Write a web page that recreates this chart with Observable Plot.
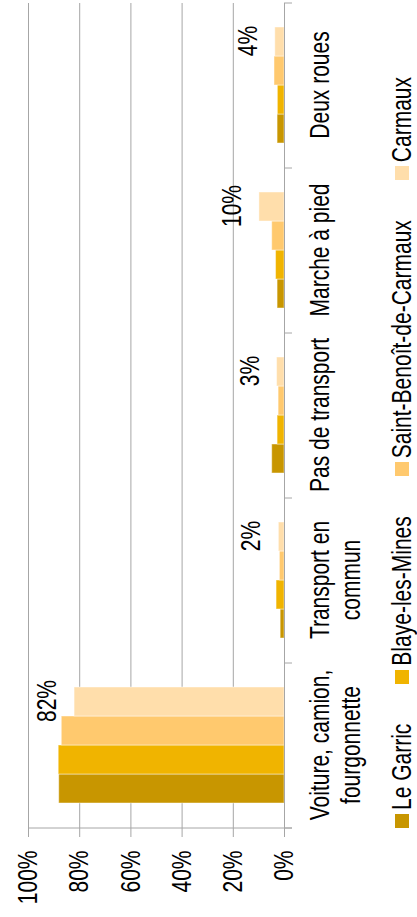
<!DOCTYPE html>
<html>
<head>
<meta charset="utf-8">
<script src="https://cdn.jsdelivr.net/npm/d3@7"></script>
<script src="https://cdn.jsdelivr.net/npm/@observablehq/plot@0.6"></script>
<style>
  html, body { margin: 0; padding: 0; background: #fff; overflow: hidden; }
  #wrap {
    position: absolute; left: 0; top: 0; width: 917px; height: 417px;
    transform-origin: 0 0; transform: translate(0, 917px) rotate(-90deg);
    font-family: "Liberation Sans", Arial, sans-serif; background: #fff;
  }
  #legend {
    position: absolute; left: 89px; top: 388px; height: 27px;
    display: flex; align-items: center; gap: 40px; font-size: 21px; color: #000;
  }
  #legend .item { display: flex; align-items: center; gap: 4px; white-space: nowrap; }
  #legend .sw { width: 14px; height: 14px; display: inline-block; }
  #legend .lab { display: inline-block; transform: scaleY(1.28); }
</style>
</head>
<body>
<div id="wrap"><div id="chart"></div><div id="legend"></div></div>
<script>
const categories = ["Voiture, camion,\nfourgonnette", "Transport en\ncommun", "Pas de transport", "Marche à pied", "Deux roues"];
const communes = ["Le Garric", "Blaye-les-Mines", "Saint-Benoît-de-Carmaux", "Carmaux"];
const leGarric    = [88.0, 1.5, 4.8, 2.7, 2.7];
const blaye       = [88.2, 3.1, 2.7, 3.3, 2.6];
const saintBenoit = [87.0, 1.8, 2.3, 4.8, 3.9];
const carmaux     = [82.0, 2.2, 2.9, 9.8, 3.6];
const colors = ["#c89600", "#f0b400", "#ffc96e", "#ffdeab"];
const yTicks = [0, 20, 40, 60, 80, 100];

const series = [leGarric, blaye, saintBenoit, carmaux];
const data = [];
categories.forEach((c, i) => series.forEach((s, j) => data.push({category: c, commune: communes[j], value: s[i]})));

const grey = "#a6a6a6";
const font = "'Liberation Sans', Arial, sans-serif";
const fs = 21;
const stretch = 1.28;
const plot = Plot.plot({
  width: 917, height: 380,
  marginLeft: 88, marginRight: 2, marginTop: 28, marginBottom: 96,
  style: {fontFamily: font, fontSize: fs + "px", color: "#000", background: "transparent"},
  fx: {domain: categories, padding: 0, label: null, axis: null},
  x: {domain: communes, paddingInner: 0, paddingOuter: 0.757, axis: null},
  y: {domain: [0, 100], label: null, axis: null},
  color: {domain: communes, range: colors},
  marks: [
    Plot.gridY(yTicks, {stroke: grey, strokeOpacity: 1}),
    Plot.axisY(yTicks, {tickFormat: d => d + "%", tickSize: 9, tickPadding: 14, stroke: grey, fill: "#000", fontSize: fs, label: null}),
    Plot.barY(data, {fx: "category", x: "commune", y: "value", fill: "commune", stroke: "#fff", strokeOpacity: 0.45, strokeWidth: 1}),
    Plot.ruleY([0], {stroke: grey}),
    Plot.text(data.filter(d => d.commune === "Carmaux"), {fx: "category", x: "commune", y: "value", text: d => Math.round(d.value) + "%", dy: -27, lineAnchor: "middle", fill: "#000", fontSize: fs}),
    Plot.axisFx({anchor: "bottom", tickSize: 0, tickPadding: 23, lineHeight: 1.15, fontSize: fs, fill: "#000", label: null})
  ]
});
document.getElementById("chart").appendChild(plot);

const svgNode = plot.tagName.toLowerCase() === "svg" ? plot : plot.querySelector("svg");
// stretch glyphs vertically about each text's anchor (reference text is tall and narrow)
svgNode.querySelectorAll("text").forEach(t => {
  const tr = t.getAttribute("transform");
  if (tr) t.setAttribute("transform", tr + ` scale(1,${stretch})`);
  else {
    const x = +(t.getAttribute("x") || 0), yy = +(t.getAttribute("y") || 0);
    t.setAttribute("transform", `translate(${x},${yy}) scale(1,${stretch}) translate(${-x},${-yy})`);
  }
});

// category boundary ticks and value-axis line, through Plot's scales
const fx = plot.scale("fx"), y = plot.scale("y");
const y0 = y.apply(0), y100 = y.apply(100);
const bounds = fx.domain.map(d => fx.apply(d));
bounds.push(fx.apply(fx.domain[fx.domain.length - 1]) + fx.bandwidth);
const svg = d3.select(svgNode);
const g = svg.append("g").attr("stroke", grey).attr("stroke-width", 1);
g.selectAll("line.b").data(bounds).join("line")
  .attr("x1", d => d).attr("x2", d => d).attr("y1", y0).attr("y2", y0 + 8);
g.append("line").attr("x1", bounds[0]).attr("x2", bounds[0]).attr("y1", y100).attr("y2", y0 + 8);

// legend
const legend = d3.select("#legend");
communes.forEach((c, i) => {
  const it = legend.append("div").attr("class", "item");
  it.append("span").attr("class", "sw").style("background", colors[i]);
  it.append("span").attr("class", "lab").text(c);
});
</script>
</body>
</html>
